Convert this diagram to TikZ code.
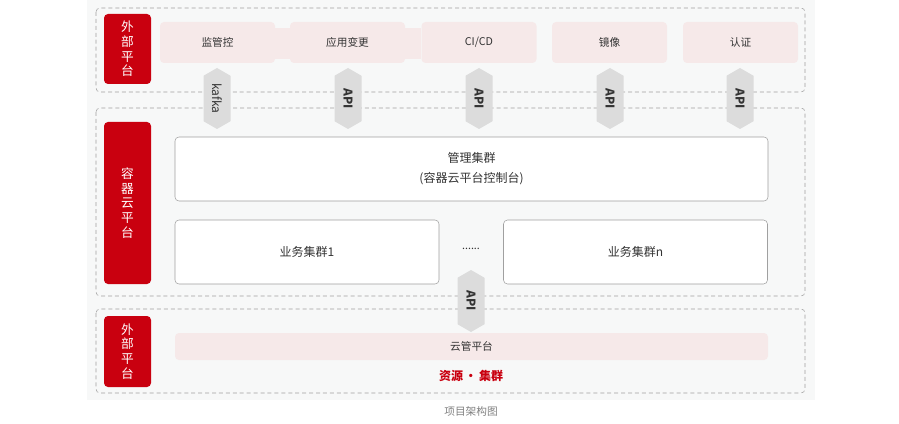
\documentclass[tikz,border=0pt]{standalone}
\usepackage{fontspec}
\setmainfont{Noto Sans CJK SC}
\usetikzlibrary{shapes.arrows,calc}
\definecolor{tagred}{HTML}{C9000F}
\definecolor{pinkbg}{HTML}{F6E9E9}
\definecolor{panelbg}{HTML}{F7F8F8}
\definecolor{arrowgray}{HTML}{DCDCDC}
\definecolor{txtgray}{HTML}{333333}
\definecolor{linegray}{HTML}{A0A0A0}

\begin{document}
\begin{tikzpicture}[x=0.75pt, y=-0.75pt,
    zone/.style={draw=linegray, dash pattern=on 3pt off 2.2pt, rounded corners=3pt},
    tag/.style={fill=tagred, rounded corners=3pt, minimum width=35.25pt, inner sep=0pt,
                text=white, align=center, font=\fontsize{9.5}{11}\selectfont},
    ext/.style={fill=pinkbg, rounded corners=3pt, minimum width=86.25pt, minimum height=30.75pt,
                inner sep=0pt, text=txtgray, font=\fontsize{8}{10}\selectfont},
    cluster/.style={draw=linegray, fill=white, rounded corners=3pt, minimum height=48pt,
                inner sep=0pt, text=txtgray, align=center, font=\fontsize{9}{15}\selectfont},
    link/.style={double arrow, fill=arrowgray, rotate=-90, minimum width=20.25pt,
                minimum height=45.75pt, double arrow head extend=0pt, double arrow tip angle=120,
                inner sep=0pt, text=txtgray, font=\fontsize{9}{10}\selectfont},
    api/.style={link, font=\fontsize{9}{10}\selectfont\bfseries},
  ]
  \useasboundingbox (0,0) rectangle (899,424);
  \fill[panelbg] (87,0) rectangle (815,400);

  % three zones
  \draw[zone] (96,8)   rectangle (805,92);
  \draw[zone] (96,108) rectangle (805,296);
  \draw[zone] (96,309) rectangle (805,393);

  % outer platforms
  \node[tag, minimum height=52.5pt]  (tagtop) at (127.5,49)  {外\\部\\平\\台};
  \fill[pinkbg] (275,28) rectangle (421,59);
  \node[ext] (mon)    at (217.5,42.5) {监管控};
  \node[ext] (deploy) at (347.5,42.5) {应用变更};
  \node[ext] (cicd)   at (479,42.5)   {CI/CD};
  \node[ext] (image)  at (609.5,42.5) {镜像};
  \node[ext] (auth)   at (740.5,42.5) {认证};

  \node[link] (kafka) at (217,98.5) {kafka};
  \node[api]  (api1)  at (348,98.5) {API};
  \node[api]  (api2)  at (479,98.5) {API};
  \node[api]  (api3)  at (610,98.5) {API};
  \node[api]  (api4)  at (740,98.5) {API};

  % container cloud
  \node[tag, minimum height=121.5pt] (tagmid) at (127.5,203) {容\\器\\云\\平\\台};
  \node[cluster, minimum width=444.75pt] (mgmt) at (471.5,169) {管理集群\\(容器云平台控制台)};
  \node[cluster, minimum width=198pt] (biz1) at (307,252)   {业务集群1};
  \node[cluster, minimum width=198pt] (bizn) at (635.5,252) {业务集群n};
  \node[text=txtgray, font=\fontsize{8}{10}\selectfont] (dots) at (471,249) {......};

  % resources
  \node[tag, minimum height=53.25pt] (tagbot) at (127.5,351.5) {外\\部\\平\\台};
  \node[fill=pinkbg, rounded corners=3pt, minimum width=444.75pt, minimum height=20.25pt,
        inner sep=0pt, text=txtgray, font=\fontsize{8}{10}\selectfont] (cloud) at (471.5,346.5) {云管平台};
  \node[api, minimum height=46.5pt] (api5) at (471,301) {API};
  \node[text=tagred, font=\fontsize{9}{10}\selectfont\bfseries] (res) at (471,376) {资源\,·\,集群};

  \node[text=gray, font=\fontsize{8}{10}\selectfont] (caption) at (471,411) {项目架构图};
\end{tikzpicture}
\end{document}
